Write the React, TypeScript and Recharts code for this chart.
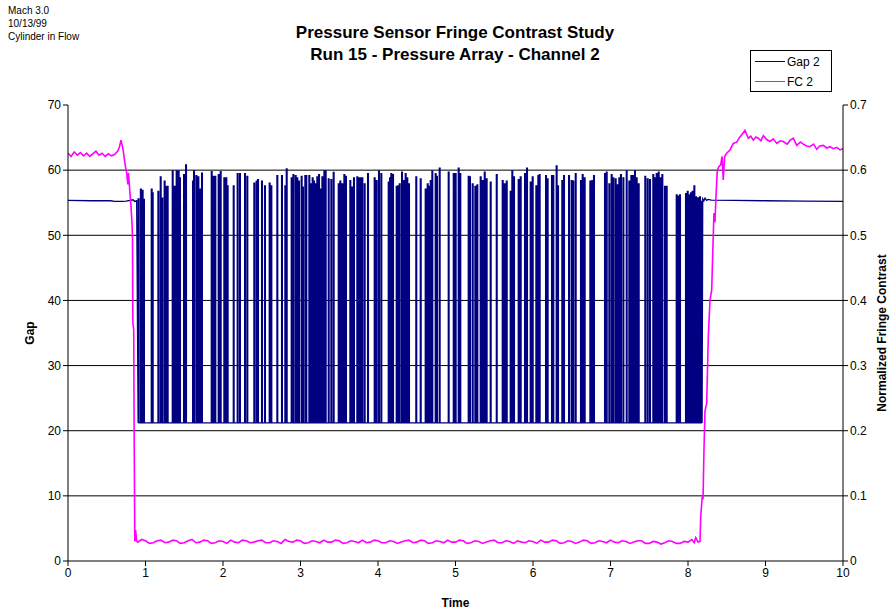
import React from "react";
import { LineChart, Line, XAxis, YAxis, ReferenceLine, Label } from "recharts";

const NAVY = "#000080";
const MAGENTA = "#ff00ff";
const FONT = "'Liberation Sans', Arial, sans-serif";

// time axis and tick labels
const timeTicks = [0, 1, 2, 3, 4, 5, 6, 7, 8, 9, 10];
const gapTicks = [0, 10, 20, 30, 40, 50, 60, 70];
const gridValues = [10, 20, 30, 40, 50, 60];
const fcTicks = [0, 0.1, 0.2, 0.3, 0.4, 0.5, 0.6, 0.7];

// Gap 2: resting level of the square wave
const GAP_LOW = 21.2;

// Gap 2 before the pulses start [time, gap]
const gapLead: [number, number][] = [
  [0, 55.35], [0.3, 55.3], [0.55, 55.3], [0.6, 55.2], [0.7, 55.2], [0.75, 55.25], [0.84, 55.45], [0.86, 55.2], [0.886, 55.3],
];

// Gap 2 pulse times and tops
const pulseTime = [
  0.91, 0.94, 0.963, 0.98, 1.08, 1.093, 1.166, 1.196, 1.217, 1.247, 1.265, 1.286,
  1.351, 1.376, 1.402, 1.428, 1.445, 1.497, 1.523, 1.613, 1.626, 1.656, 1.682, 1.708, 1.729,
  1.854, 1.88, 1.901, 1.944, 1.97, 2.017, 2.043, 2.06, 2.138, 2.189, 2.219, 2.284, 2.314,
  2.404, 2.434, 2.452, 2.503, 2.542, 2.602, 2.624, 2.701, 2.761, 2.804, 2.822, 2.886, 2.908,
  2.938, 2.959, 2.981, 3.015, 3.032, 3.062, 3.075, 3.114, 3.135, 3.157, 3.174, 3.191, 3.217,
  3.239, 3.26, 3.282, 3.308, 3.325, 3.364, 3.398, 3.428, 3.493, 3.514, 3.54, 3.566, 3.587,
  3.643, 3.669, 3.69, 3.733, 3.755, 3.781, 3.798, 3.828, 3.871, 3.957, 3.983, 4.013, 4.043,
  4.138, 4.155, 4.172, 4.194, 4.241, 4.262, 4.28, 4.31, 4.331, 4.357, 4.378, 4.4,
  4.494, 4.551, 4.615, 4.641, 4.662, 4.68, 4.701, 4.744, 4.761, 4.796, 4.912, 4.977, 5.002,
  5.041, 5.062, 5.17, 5.187, 5.222, 5.256, 5.282, 5.325, 5.351, 5.377, 5.402, 5.454,
  5.532, 5.609, 5.635, 5.661, 5.712, 5.733, 5.755, 5.815, 5.841, 5.897, 5.923, 5.97, 5.996,
  6.043, 6.069, 6.086, 6.168, 6.189, 6.245, 6.262, 6.305, 6.323, 6.378, 6.4, 6.465, 6.499,
  6.52, 6.551, 6.619, 6.641, 6.667, 6.74, 6.765, 6.787, 6.929, 6.951, 6.985, 7.015, 7.037,
  7.067, 7.093, 7.114, 7.135, 7.166, 7.209, 7.243, 7.269, 7.295, 7.316, 7.338, 7.364,
  7.449, 7.48, 7.51, 7.552, 7.574, 7.596, 7.622, 7.648, 7.669, 7.703, 7.725,
  7.854, 7.875, 7.897, 7.974, 7.996, 8.017, 8.039, 8.06, 8.082, 8.103, 8.129, 8.155, 8.177,
];
const pulseTop = [
  55.6, 57.1, 56.9, 55.5, 57.1, 56.5, 56.75, 58.95, 55.7, 58.3, 57.5, 57.5,
  59.9, 57.5, 59.9, 59.9, 58.8, 59.3, 60.8, 58.3, 59.9, 59.15, 58.95, 57.1, 59.55,
  59.75, 59.05, 59.05, 59.3, 59.75, 58.8, 58.8, 57.6, 57.6, 59.45, 59.45, 59.45, 59.05,
  58.0, 58.3, 58.55, 58.3, 57.6, 58.0, 57.6, 59.15, 59.15, 57.6, 60.2, 58.8, 59.3,
  59.15, 58.8, 58.3, 59.05, 57.4, 59.15, 59.15, 59.15, 57.9, 58.8, 58.3, 57.9, 58.95,
  59.3, 57.1, 58.95, 59.9, 59.9, 58.65, 58.55, 59.65, 57.9, 58.3, 57.9, 59.3, 59.05,
  58.4, 57.4, 58.8, 58.95, 58.8, 58.8, 58.8, 57.9, 59.45, 58.8, 58.4, 59.9, 59.45,
  58.15, 58.8, 59.45, 59.3, 57.5, 57.6, 57.9, 59.7, 58.4, 59.45, 58.8, 57.9,
  58.95, 58.65, 57.1, 57.9, 57.5, 58.4, 59.9, 59.45, 59.05, 60.3, 59.7, 59.45, 59.45,
  60.3, 59.45, 59.05, 58.95, 57.9, 57.5, 57.75, 58.95, 58.4, 59.7, 58.65, 58.15,
  59.3, 58.4, 57.9, 58.3, 56.75, 59.9, 58.95, 58.55, 58.95, 59.45, 60.3, 58.15, 58.95,
  57.6, 59.15, 59.3, 59.15, 58.65, 59.15, 59.15, 60.65, 57.6, 58.4, 59.15, 59.15, 58.4,
  58.3, 59.45, 58.4, 59.3, 58.8, 58.3, 58.4, 59.15, 59.45, 59.7, 57.9, 59.3, 58.8,
  58.65, 57.75, 58.8, 59.3, 58.8, 59.9, 58.3, 59.15, 59.15, 59.9, 58.8, 57.9,
  59.05, 58.65, 58.55, 59.3, 58.8, 59.45, 59.7, 58.8, 59.3, 57.5, 57.5,
  56.2, 56.0, 56.2, 56.4, 56.75, 56.2, 56.5, 56.75, 57.6, 55.9, 55.75, 55.9, 55.2,
];

// Gap 2 after the pulses stop [time, gap]
const gapTail: [number, number][] = [
  [8.19, 55.6], [8.205, 55.3], [8.22, 55.7], [8.24, 55.35], [8.26, 55.5], [8.3, 55.4], [8.6, 55.35], [9.0, 55.3], [9.5, 55.25], [10, 55.2],
];

// FC 2 (normalized fringe contrast) [time, fc]
const fcLead: [number, number][] = [
  [0, 0.626], [0.04, 0.621], [0.08, 0.628], [0.12, 0.623], [0.16, 0.627], [0.2, 0.622], [0.24, 0.626],
  [0.28, 0.621], [0.32, 0.625], [0.36, 0.629], [0.4, 0.623], [0.44, 0.626], [0.48, 0.621], [0.52, 0.625],
  [0.56, 0.622], [0.6, 0.624], [0.64, 0.629], [0.665, 0.636], [0.684, 0.646], [0.71, 0.632], [0.735, 0.61],
  [0.757, 0.595], [0.772, 0.578], [0.78, 0.596], [0.8, 0.564], [0.813, 0.544], [0.826, 0.518], [0.832, 0.497],
  [0.837, 0.365], [0.848, 0.355], [0.853, 0.212], [0.862, 0.03], [0.872, 0.048], [0.885, 0.031],
];
const fcFloor: [number, number][] = [
  [0.9, 0.029], [0.95, 0.033], [1.0, 0.031], [1.05, 0.027], [1.1, 0.028], [1.15, 0.031], [1.2, 0.032], [1.25, 0.028],
  [1.3, 0.029], [1.35, 0.032], [1.4, 0.031], [1.45, 0.027], [1.5, 0.028], [1.55, 0.031], [1.6, 0.033], [1.65, 0.028],
  [1.7, 0.029], [1.75, 0.032], [1.8, 0.031], [1.85, 0.027], [1.9, 0.028], [1.95, 0.031], [2.0, 0.030], [2.05, 0.027],
  [2.1, 0.032], [2.15, 0.029], [2.2, 0.028], [2.25, 0.032], [2.3, 0.031], [2.35, 0.028], [2.4, 0.029], [2.45, 0.031],
  [2.5, 0.032], [2.55, 0.028], [2.6, 0.028], [2.65, 0.031], [2.7, 0.030], [2.75, 0.027], [2.8, 0.033], [2.85, 0.030],
  [2.9, 0.029], [2.95, 0.032], [3.0, 0.031], [3.05, 0.027], [3.1, 0.028], [3.15, 0.031], [3.2, 0.030], [3.25, 0.028],
  [3.3, 0.032], [3.35, 0.029], [3.4, 0.029], [3.45, 0.032], [3.5, 0.031], [3.55, 0.027], [3.6, 0.028], [3.65, 0.031],
  [3.7, 0.030], [3.75, 0.028], [3.8, 0.032], [3.85, 0.028], [3.9, 0.029], [3.95, 0.032], [4.0, 0.031], [4.05, 0.028],
  [4.1, 0.028], [4.15, 0.031], [4.2, 0.030], [4.25, 0.027], [4.3, 0.029], [4.35, 0.031], [4.4, 0.032], [4.45, 0.028],
  [4.5, 0.029], [4.55, 0.032], [4.6, 0.031], [4.65, 0.027], [4.7, 0.028], [4.75, 0.031], [4.8, 0.030], [4.85, 0.028],
  [4.9, 0.032], [4.95, 0.029], [5.0, 0.029], [5.05, 0.032], [5.1, 0.031], [5.15, 0.027], [5.2, 0.028], [5.25, 0.031],
  [5.3, 0.030], [5.35, 0.027], [5.4, 0.029], [5.45, 0.031], [5.5, 0.032], [5.55, 0.028], [5.6, 0.028], [5.65, 0.031],
  [5.7, 0.030], [5.75, 0.027], [5.8, 0.031], [5.85, 0.029], [5.9, 0.028], [5.95, 0.031], [6.0, 0.030], [6.05, 0.027],
  [6.1, 0.032], [6.15, 0.029], [6.2, 0.029], [6.25, 0.032], [6.3, 0.031], [6.35, 0.027], [6.4, 0.028], [6.45, 0.031],
  [6.5, 0.030], [6.55, 0.027], [6.6, 0.029], [6.65, 0.032], [6.7, 0.031], [6.75, 0.027], [6.8, 0.028], [6.85, 0.031],
  [6.9, 0.030], [6.95, 0.028], [7.0, 0.032], [7.05, 0.029], [7.1, 0.028], [7.15, 0.031], [7.2, 0.030], [7.25, 0.027],
  [7.3, 0.029], [7.35, 0.031], [7.4, 0.031], [7.45, 0.027], [7.5, 0.027], [7.55, 0.030], [7.6, 0.029], [7.65, 0.026],
  [7.7, 0.028], [7.75, 0.031], [7.8, 0.030], [7.85, 0.027], [7.9, 0.027], [7.95, 0.030], [8.0, 0.029], [8.05, 0.033],
  [8.08, 0.028], [8.1, 0.036], [8.13, 0.029], [8.155, 0.03],
];
const fcRise: [number, number][] = [
  [8.164, 0.068], [8.184, 0.099], [8.194, 0.095], [8.206, 0.17], [8.219, 0.23], [8.241, 0.242], [8.262, 0.344],
  [8.284, 0.401], [8.306, 0.416], [8.319, 0.472], [8.335, 0.534], [8.348, 0.52], [8.361, 0.559], [8.378, 0.6],
  [8.396, 0.605], [8.422, 0.608], [8.439, 0.621], [8.455, 0.585], [8.473, 0.621], [8.499, 0.626], [8.542, 0.631],
  [8.584, 0.641], [8.628, 0.643], [8.671, 0.651], [8.735, 0.661], [8.778, 0.649], [8.81, 0.652], [8.843, 0.646],
  [8.875, 0.651], [8.907, 0.649], [8.94, 0.645], [8.972, 0.653], [9.015, 0.647], [9.058, 0.644], [9.1, 0.648],
  [9.145, 0.641], [9.19, 0.645], [9.23, 0.644], [9.28, 0.64], [9.32, 0.646], [9.359, 0.649], [9.403, 0.638],
  [9.45, 0.643], [9.488, 0.64], [9.53, 0.637], [9.574, 0.636], [9.62, 0.64], [9.661, 0.632], [9.7, 0.637],
  [9.746, 0.638], [9.79, 0.634], [9.832, 0.636], [9.875, 0.633], [9.919, 0.635], [9.96, 0.631], [10, 0.633],
];

// each pulse is drawn as a narrow square bump
const HALF = 0.005;
const gapData = [
  ...gapLead.map(([t, v]) => ({ t, gap: v })),
  ...pulseTime.flatMap((t, i) => [
    { t: t - HALF, gap: GAP_LOW },
    { t: t - HALF, gap: pulseTop[i] },
    { t: t + HALF, gap: pulseTop[i] },
    { t: t + HALF, gap: GAP_LOW },
  ]),
  ...gapTail.map(([t, v]) => ({ t, gap: v })),
];

const fcData = [...fcLead, ...fcFloor, ...fcRise].map(([t, v]) => ({ t, fc: v }));

const tickStyle = { fontSize: 12, fill: "#000", fontFamily: FONT };
const titleStyle = { fontSize: 12, fontWeight: "bold", fill: "#000", fontFamily: FONT, textAnchor: "middle" } as const;

export default function App() {
  return (
    <div style={{ position: "absolute", left: 0, top: 0, width: 891, height: 613, background: "#fff", fontFamily: FONT }}>
      {/* top-left notes */}
      <div style={{ position: "absolute", left: 8, top: 4, fontSize: 10, lineHeight: "13px", color: "#000" }}>
        <div>Mach 3.0</div>
        <div>10/13/99</div>
        <div>Cylinder in Flow</div>
      </div>

      {/* title */}
      <div style={{ position: "absolute", left: 0, width: 910, top: 22, textAlign: "center", fontSize: 17, fontWeight: "bold", lineHeight: "22px" }}>
        <div>Pressure Sensor Fringe Contrast Study</div>
        <div>Run 15 - Pressure Array - Channel 2</div>
      </div>

      <LineChart width={891} height={613} margin={{ top: 105, right: 2, bottom: 2, left: 28 }}>
        <XAxis
          dataKey="t"
          type="number"
          domain={[0, 10]}
          ticks={timeTicks}
          height={50}
          tick={tickStyle}
          tickSize={5}
          stroke="#000"
          allowDuplicatedCategory={false}
        >
          <Label value="Time" position="insideBottom" offset={4} style={titleStyle} />
        </XAxis>
        <YAxis
          yAxisId="left"
          domain={[0, 70]}
          ticks={gapTicks}
          width={40}
          tick={tickStyle}
          tickSize={5}
          stroke="#000"
        >
          <Label value="Gap" angle={-90} position="insideLeft" offset={2} style={titleStyle} />
        </YAxis>
        <YAxis
          yAxisId="right"
          orientation="right"
          domain={[0, 0.7]}
          ticks={fcTicks}
          width={46}
          tick={tickStyle}
          tickSize={5}
          stroke="#000"
        >
          <Label value="Normalized Fringe Contrast" angle={-90} position="insideRight" offset={7} style={titleStyle} />
        </YAxis>
        {/* horizontal grid lines at 10..60 (no line along the top at 70) */}
        {gridValues.map((v) => (
          <ReferenceLine key={v} yAxisId="left" y={v} stroke="#000" strokeWidth={1} />
        ))}
        <Line
          yAxisId="left"
          data={gapData}
          dataKey="gap"
          type="linear"
          stroke={NAVY}
          strokeWidth={1.3}
          dot={false}
          isAnimationActive={false}
        />
        <Line
          yAxisId="right"
          data={fcData}
          dataKey="fc"
          type="linear"
          stroke={MAGENTA}
          strokeWidth={1.6}
          dot={false}
          isAnimationActive={false}
        />
      </LineChart>

      {/* legend */}
      <div style={{ position: "absolute", left: 750, top: 50, width: 80, height: 40, border: "1px solid #000", fontSize: 12, background: "#fff" }}>
        {[
          { name: "Gap 2", color: NAVY },
          { name: "FC 2", color: MAGENTA },
        ].map((s) => (
          <div key={s.name} style={{ display: "flex", alignItems: "center", height: 19, paddingLeft: 4, marginTop: 1 }}>
            <span style={{ display: "inline-block", width: 30, height: 0, borderTop: `1.5px solid ${s.color}`, marginRight: 2 }} />
            <span>{s.name}</span>
          </div>
        ))}
      </div>
    </div>
  );
}
